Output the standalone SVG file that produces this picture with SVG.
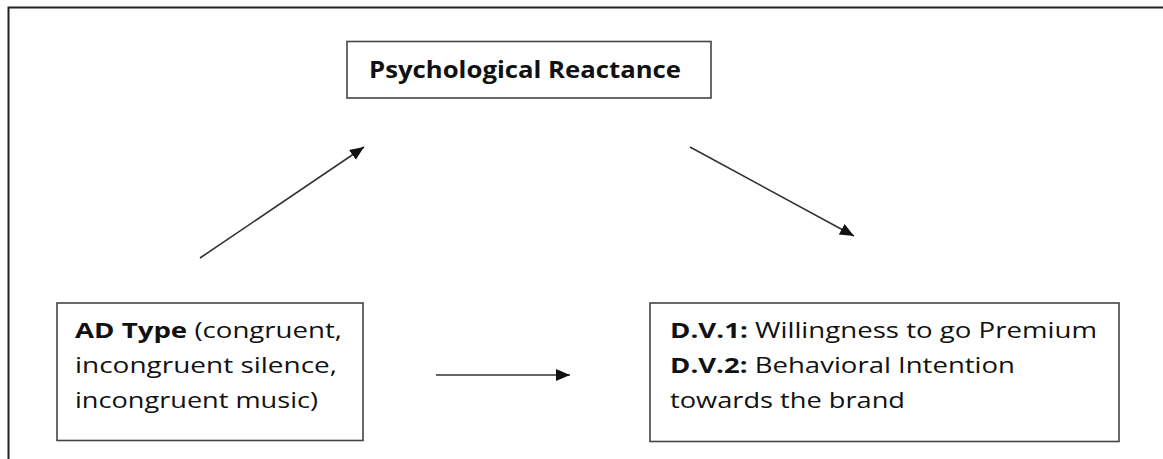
<svg xmlns="http://www.w3.org/2000/svg" width="1163" height="459" viewBox="0 0 1163 459">
  <style>
    .frame { fill: none; stroke: #222; stroke-width: 2; }
    .box { fill: #fff; stroke: #444; stroke-width: 1.6; }
    .lbl { font-family: "Open Sans", "Liberation Sans", Arial, sans-serif; font-size: 22px; fill: #111; }
    .ttl { font-family: "Open Sans", "Liberation Sans", Arial, sans-serif; font-size: 24px; font-weight: bold; fill: #111; }
    .b { font-weight: bold; }
    .conn { stroke: #333; stroke-width: 1.6; fill: none; }
  </style>
  <defs>
    <marker id="arrow" markerUnits="userSpaceOnUse" markerWidth="16" markerHeight="14" refX="14" refY="6" orient="auto">
      <path d="M0,0 L14,6 L0,12 Z" fill="#111"/>
    </marker>
  </defs>
  <rect width="1163" height="459" fill="#fff"/>
  <path class="frame" d="M8.5,459 L8.5,7.5 L1163,7.5"/>

  <g id="connectors">
    <line class="conn" x1="200" y1="258" x2="364" y2="147" marker-end="url(#arrow)"/>
    <line class="conn" x1="690" y1="147" x2="854" y2="236" marker-end="url(#arrow)"/>
    <line class="conn" x1="436" y1="375" x2="570" y2="375" marker-end="url(#arrow)"/>
  </g>

  <g id="reactance">
    <rect class="box" x="347" y="41.5" width="364" height="56.5"/>
    <text class="ttl" x="369" y="78" textLength="312" lengthAdjust="spacingAndGlyphs">Psychological Reactance</text>
  </g>

  <g id="adtype">
    <rect class="box" x="57" y="303" width="306" height="137.5"/>
    <text class="lbl" x="75" y="338" textLength="267" lengthAdjust="spacingAndGlyphs"><tspan class="b">AD Type</tspan> (congruent,</text>
    <text class="lbl" x="75" y="373" textLength="262" lengthAdjust="spacingAndGlyphs">incongruent silence,</text>
    <text class="lbl" x="75" y="408" textLength="243" lengthAdjust="spacingAndGlyphs">incongruent music)</text>
  </g>

  <g id="dv">
    <rect class="box" x="650" y="303" width="469" height="138.5"/>
    <text class="lbl" x="670" y="338" textLength="427" lengthAdjust="spacingAndGlyphs"><tspan class="b">D.V.1:</tspan> Willingness to go Premium</text>
    <text class="lbl" x="670" y="373" textLength="345" lengthAdjust="spacingAndGlyphs"><tspan class="b">D.V.2:</tspan> Behavioral Intention</text>
    <text class="lbl" x="670" y="408" textLength="235" lengthAdjust="spacingAndGlyphs">towards the brand</text>
  </g>
</svg>
